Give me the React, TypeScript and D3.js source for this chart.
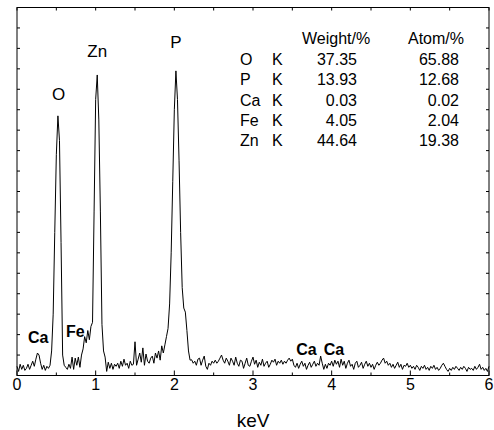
import * as d3 from 'd3';

// EDS spectrum, counts every 0.02 keV (arbitrary units)
const step = 0.02;
const counts0to1 = [0.45, 0.2, 0.55, 0.3, 0.5, 0.25, 0.35, 0.55, 0.3, 0.5, 0.7, 0.45, 0.8, 1.1, 1.0, 0.6, 0.3, 0.5, 0.25, 0.45, 0.35, 0.5, 1.2, 3.0, 7.0, 10.8, 12.7, 11.5, 6.5, 1.0, 0.5, 0.4, 0.3, 0.55, 0.35, 0.9, 0.3, 0.85, 0.5, 0.9, 0.4, 1.0, 1.3, 1.9, 1.6, 2.2, 1.75, 2.4, 2.6, 8.0];
const counts1to2 = [13.5, 14.7, 12.5, 8.0, 2.5, 1.2, 0.9, 0.2, 0.65, 0.35, 0.6, 0.3, 0.55, 0.45, 0.6, 0.35, 0.7, 0.45, 0.8, 0.5, 0.6, 0.35, 0.7, 0.5, 0.55, 1.65, 0.5, 0.8, 1.1, 0.65, 1.35, 0.5, 1.05, 0.7, 0.6, 0.85, 0.95, 0.6, 1.1, 0.85, 1.2, 0.75, 1.45, 1.1, 1.5, 1.9, 2.3, 3.5, 6.0, 9.5];
const counts2to3 = [13.0, 14.9, 13.5, 10.5, 7.0, 4.3, 3.3, 3.1, 2.2, 1.2, 0.75, 0.77, 0.6, 0.7, 0.5, 0.8, 0.85, 0.5, 0.75, 0.95, 0.45, 0.3, 0.6, 0.5, 0.7, 0.6, 0.75, 0.6, 0.7, 0.85, 1.0, 0.75, 0.6, 0.85, 0.7, 0.5, 0.85, 0.7, 0.5, 0.9, 0.6, 0.45, 0.75, 0.7, 0.35, 0.6, 0.85, 0.5, 0.45, 0.7];
const counts3to4 = [0.9, 0.55, 0.75, 0.4, 0.65, 0.5, 0.8, 0.45, 0.6, 0.7, 0.4, 0.55, 0.75, 0.65, 0.8, 0.5, 0.7, 0.6, 0.75, 0.55, 0.7, 0.6, 0.75, 0.85, 0.7, 0.8, 0.5, 0.4, 0.6, 0.35, 0.55, 0.7, 0.45, 0.6, 0.3, 0.5, 0.65, 0.4, 0.55, 0.7, 0.45, 0.6, 0.5, 0.95, 0.6, 0.3, 0.55, 0.35, 0.6, 0.5];
const counts4to5 = [0.7, 0.45, 0.75, 0.55, 0.7, 0.4, 0.8, 0.5, 0.7, 0.35, 0.6, 0.75, 0.45, 0.55, 0.3, 0.6, 0.7, 0.4, 0.5, 0.65, 0.35, 0.55, 0.7, 0.45, 0.6, 0.4, 0.55, 0.3, 0.5, 0.65, 0.5, 0.6, 0.75, 0.85, 0.6, 0.7, 0.5, 0.6, 0.4, 0.55, 0.35, 0.5, 0.65, 0.4, 0.55, 0.3, 0.5, 0.45, 0.6, 0.4];
const counts5to6 = [0.5, 0.35, 0.45, 0.3, 0.5, 0.4, 0.25, 0.45, 0.35, 0.5, 0.3, 0.4, 0.25, 0.45, 0.35, 0.5, 0.3, 0.4, 0.25, 0.35, 0.5, 0.6, 0.45, 0.3, 0.2, 0.35, 0.25, 0.4, 0.3, 0.45, 0.35, 0.25, 0.4, 0.3, 0.45, 0.35, 0.2, 0.4, 0.3, 0.35, 0.25, 0.45, 0.3, 0.4, 0.55, 0.3, 0.4, 0.25, 0.35, 0.2, 0.45];

const xTicks = [0, 1, 2, 3, 4, 5, 6];

// peak labels
const peakLabels = ['O', 'Zn', 'P'];
const peakKeV = [0.53, 1.02, 2.02];
const peakHeight = [13.5, 15.6, 16.0];

// minor element labels (bold)
const minorLabels = ['Ca', 'Fe', 'Ca', 'Ca'];
const minorKeV = [0.27, 0.74, 3.68, 4.03];
const minorHeight = [1.6, 1.9, 1.0, 1.0];

// quantification table
const tableElements = ['O', 'P', 'Ca', 'Fe', 'Zn'];
const tableWeight = ['37.35', '13.93', '0.03', '4.05', '44.64'];
const tableAtom = ['65.88', '12.68', '0.02', '2.04', '19.38'];

const font = '"Liberation Sans", Arial, sans-serif';

export default function App() {
  const width = 494;
  const height = 430;
  const left = 17;
  const right = 489;
  const top = 7.5;
  const bottom = 375.5;

  const counts = [...counts0to1, ...counts1to2, ...counts2to3, ...counts3to4, ...counts4to5, ...counts5to6];
  const data = counts.map((c, i) => ({ e: i * step, c }));

  const x = d3.scaleLinear().domain([0, 6]).range([left, right]);
  const y = d3.scaleLinear().domain([0, 18]).range([bottom, top]);

  const line = d3.line<{ e: number; c: number }>().x(d => x(d.e)).y(d => y(d.c));

  const halfTicks = d3.range(0, 6.01, 0.5);
  const yTicks = d3.range(1, 18, 1);

  const rowY = (i: number) => 65 + i * 20.3;

  return (
    <svg width={width} height={height} style={{ position: 'absolute', left: 0, top: 0, background: '#fff' }} fontFamily={font}>
      <rect x={left} y={top} width={right - left} height={bottom - top} fill="none" stroke="#000" strokeWidth={1} />
      {halfTicks.map(t => {
        const major = Number.isInteger(t);
        return (
          <g key={t}>
            <line x1={x(t)} x2={x(t)} y1={bottom} y2={bottom - (major ? 5 : 3)} stroke="#000" />
            <line x1={x(t)} x2={x(t)} y1={top} y2={top + 3} stroke="#000" />
          </g>
        );
      })}
      {yTicks.map(t => (
        <g key={t}>
          <line x1={left} x2={left + 3} y1={y(t)} y2={y(t)} stroke="#000" />
          <line x1={right} x2={right - 3} y1={y(t)} y2={y(t)} stroke="#000" />
        </g>
      ))}
      {xTicks.map(t => (
        <text key={t} x={x(t)} y={390} fontSize={16} textAnchor="middle">{t}</text>
      ))}
      <text x={(left + right) / 2} y={427} fontSize={19} textAnchor="middle">keV</text>

      <path d={line(data) ?? ''} fill="none" stroke="#000" strokeWidth={1} strokeLinejoin="round" />

      {peakLabels.map((l, i) => (
        <text key={l} x={x(peakKeV[i])} y={y(peakHeight[i])} fontSize={17} textAnchor="middle">{l}</text>
      ))}
      {minorLabels.map((l, i) => (
        <text key={i} x={x(minorKeV[i])} y={y(minorHeight[i])} fontSize={16} fontWeight="bold" textAnchor="middle">{l}</text>
      ))}

      <g fontSize={16}>
        <text x={302} y={44.3}>Weight/%</text>
        <text x={408} y={44.3}>Atom/%</text>
        {tableElements.map((el, i) => (
          <g key={el}>
            <text x={240} y={rowY(i)}>{el}</text>
            <text x={272} y={rowY(i)}>K</text>
            <text x={357} y={rowY(i)} textAnchor="end">{tableWeight[i]}</text>
            <text x={459} y={rowY(i)} textAnchor="end">{tableAtom[i]}</text>
          </g>
        ))}
      </g>
    </svg>
  );
}
